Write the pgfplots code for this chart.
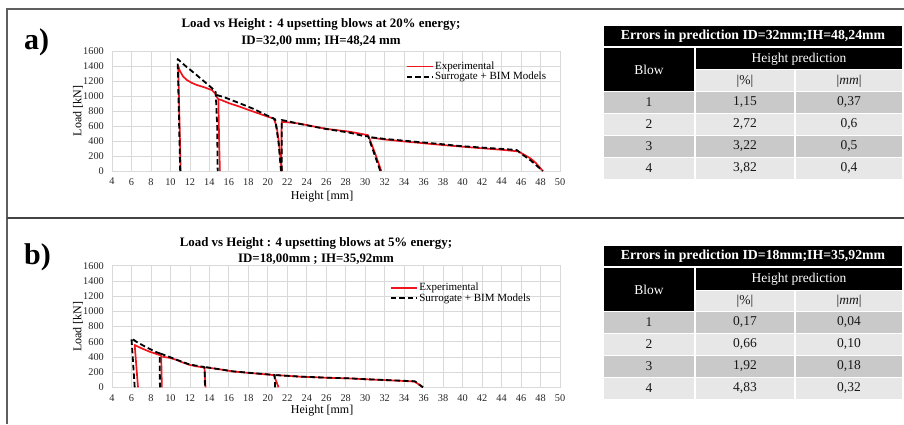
\documentclass[border=0pt]{standalone}
\usepackage{fontspec}
\setmainfont{Liberation Serif}
\usepackage{pgfplots}
\pgfplotsset{compat=1.18}

\definecolor{expred}{RGB}{240,20,28}
\definecolor{gridc}{RGB}{217,217,217}
\definecolor{darkrow}{RGB}{201,201,201}
\definecolor{lightrow}{RGB}{231,231,231}
\definecolor{framec}{RGB}{95,95,95}

\tikzset{
  expline/.style={expred, line width=1.7pt, line join=round},
  simline/.style={black, line width=1.8pt, dash pattern=on 5.5pt off 3pt, line join=round},
}

\pgfplotsset{
  chartstyle/.style={
    scale only axis, width=448pt,
    xmin=4, xmax=50, ymin=0, ymax=1600,
    xtick={4,6,...,50}, ytick={0,200,...,1600},
    grid=major, major grid style={gridc, line width=0.8pt},
    axis line style={gridc, line width=0.8pt},
    major tick length=0pt,
    /pgf/number format/assume math mode=true,
    /pgf/number format/1000 sep={},
    ticklabel style={font=\fontsize{10.3}{12}\selectfont, text=black!85},
    yticklabel style={anchor=east, inner sep=0pt, xshift=-8pt},
    xticklabel style={anchor=north, inner sep=0pt, yshift=-7pt},
    legend image code/.code={\draw[##1] (0pt,0pt) -- (26pt,0pt);},
    legend style={draw=none, fill=none, font=\fontsize{11}{13}\selectfont,
      inner sep=0pt, row sep=0pt, column sep=1pt, nodes={inner sep=0.6pt}},
    legend cell align=left,
    xlabel style={font=\fontsize{12}{14}\selectfont, anchor=center},
    ylabel style={font=\fontsize{12}{14}\selectfont, anchor=center, rotate=0},
  }
}

\newcommand\errtable[9]{%
  \fill[black] (604,26) rectangle (902,46);
  \node[text=white, font=\bfseries\fontsize{13.8}{16}\selectfont] at (753,36) {#1};
  \fill[black] (604,48) rectangle (694,91);
  \fill[black] (696,48) rectangle (902,69.5);
  \fill[lightrow] (696,70.5) rectangle (794,91);
  \fill[lightrow] (796,70.5) rectangle (902,91);
  \node[text=white, font=\fontsize{13.5}{16}\selectfont] at (649,70) {Blow};
  \node[text=white, font=\fontsize{13.5}{16}\selectfont] at (799,59) {Height prediction};
  \node[text=black!90, font=\fontsize{13.5}{16}\selectfont] at (745,81) {|\%|};
  \node[text=black!90, font=\fontsize{13.5}{16}\selectfont] at (849,81) {|\textit{mm}|};
  \foreach \r/\c in {0/darkrow,1/lightrow,2/darkrow,3/lightrow}{
    \fill[\c] (604,{92+22*\r}) rectangle (694,{113+22*\r});
    \fill[\c] (696,{92+22*\r}) rectangle (794,{113+22*\r});
    \fill[\c] (796,{92+22*\r}) rectangle (902,{113+22*\r});
  }
  \begin{scope}[every node/.style={text=black!90, font=\fontsize{13.5}{16}\selectfont}]
  \node at (649,102.5) {1}; \node at (745,102.5) {#2}; \node at (849,102.5) {#3};
  \node at (649,124.5) {2}; \node at (745,124.5) {#4}; \node at (849,124.5) {#5};
  \node at (649,146.5) {3}; \node at (745,146.5) {#6}; \node at (849,146.5) {#7};
  \node at (649,168.5) {4}; \node at (745,168.5) {#8}; \node at (849,168.5) {#9};
  \end{scope}
}

\begin{document}
\begin{tikzpicture}
\useasboundingbox (0pt,0pt) rectangle (904pt,424pt);

% ---------------- chart a ----------------
\begin{axis}[chartstyle, height=120pt, at={(112pt,253pt)}, anchor=south west,
  xlabel={Height [mm]}, ylabel={Load [kN]},
  xlabel style={at={(axis description cs:0.469,-0.217)}},
  ylabel style={at={(axis description cs:-0.076,0.5)}},
  legend style={at={(0.655,0.915)}, anchor=north west}]
\addplot[expline] coordinates {(30.6,445) (32,420) (34,394) (36,370) (38,346) (40,324) (42,303) (44,283) (45.7,262) (46.4,212) (47.0,165) (47.5,110) (47.9,50) (48.24,0)};
\addlegendentry{Experimental}
\addplot[expline, forget plot] coordinates {(21.38,0) (21.42,655) (22,650) (23.3,632) (24,612) (26,562) (28.4,524) (29.8,490) (30.3,478) (31.0,240) (31.65,0)};
\addplot[expline, forget plot] coordinates {(14.92,956) (15.2,948) (16,905) (17.1,858) (18,815) (19,770) (20,724) (20.6,700) (20.9,600) (21.1,420) (21.3,180) (21.45,0)};
\addplot[expline, forget plot] coordinates {(11.05,0) (10.8,1400) (10.95,1340) (11.3,1260) (11.7,1212) (12.2,1175) (12.7,1147) (13.5,1115) (14.24,1080) (14.58,1036) (14.75,990) (14.92,956) (15.0,400) (15.08,0)};
\addplot[simline] coordinates {(30.66,449) (32,428) (34,404) (36,380) (38,356) (39.73,333) (42,312) (44,295) (45.55,280) (46.3,205) (47.0,140) (47.7,60) (48.24,0)};
\addlegendentry{Surrogate + BIM Models}
\addplot[simline, forget plot] coordinates {(21.42,0) (21.42,680) (22,665) (23.3,627) (26,560) (28.4,511) (29.8,467) (30.3,462) (30.9,240) (31.55,0)};
\addplot[simline, forget plot] coordinates {(14.75,1013) (15.5,985) (17.14,902) (18.5,830) (20.05,733) (20.75,690) (21.1,380) (21.35,0)};
\addplot[simline, forget plot] coordinates {(11.0,0) (10.74,1493) (11.5,1405) (12.5,1300) (13.5,1190) (14.4,1090) (14.65,1050) (14.8,600) (14.85,0)};
\end{axis}

% ---------------- chart b ----------------
\begin{axis}[chartstyle, height=121.6pt, at={(112pt,36.7pt)}, anchor=south west,
  xlabel={Height [mm]}, ylabel={Load [kN]},
  xlabel style={at={(axis description cs:0.469,-0.195)}},
  ylabel style={at={(axis description cs:-0.076,0.5)}},
  legend style={at={(0.62,0.862)}, anchor=north west}]
\addplot[expline] coordinates {(20.87,162) (21.5,155) (23.3,140) (26,126) (28.4,117) (30,106) (32,95) (34,83) (35.08,76) (35.93,0)};
\addlegendentry{Experimental}
\addplot[expline, forget plot] coordinates {(13.7,262) (14,256) (15,238) (16.43,208) (18,190) (20,168) (20.6,160) (20.8,100) (21.1,0)};
\addplot[expline, forget plot] coordinates {(9.17,403) (10,385) (10.6,362) (11.2,330) (11.97,295) (12.7,275) (13.35,263) (13.5,255) (13.6,0)};
\addplot[expline, forget plot] coordinates {(6.67,0) (6.33,557) (7.0,515) (7.87,468) (8.9,425) (9.05,415) (9.12,0)};
\addplot[simline] coordinates {(20.8,160) (21.5,155) (23.3,141) (26,127) (28.4,118) (30,107) (32,96) (34,85) (35.08,80) (35.93,0)};
\addlegendentry{Surrogate + BIM Models}
\addplot[simline, forget plot] coordinates {(13.62,265) (14,258) (16.43,210) (18,192) (20,170) (20.7,162) (20.75,0)};
\addplot[simline, forget plot] coordinates {(8.95,445) (10,395) (10.6,364) (11.97,300) (13.35,270) (13.5,264) (13.55,0)};
\addplot[simline, forget plot] coordinates {(6.33,0) (6.0,645) (6.5,600) (7.53,526) (8.5,465) (8.9,447) (8.92,0)};
\end{axis}

% ---------------- texts, frame, tables (pixel coords, y down) ----------------
\begin{scope}[x=1pt, y=-1pt, shift={(0pt,424pt)}]
  \draw[framec, line width=1.6pt] (904,9) -- (7,9) -- (7,424);
  \draw[framec!70!black, line width=1.3pt] (7,218) -- (904,218);

  \node[anchor=west, font=\bfseries\fontsize{30}{32}\selectfont, inner sep=0pt] at (24,42) {a)};
  \node[anchor=west, font=\bfseries\fontsize{30}{32}\selectfont, inner sep=0pt] at (24,257) {b)};

  \node[font=\bfseries\fontsize{12.9}{15}\selectfont, inner sep=0pt] at (321,24) {Load vs Height : 4 upsetting blows at 20\% energy;};
  \node[font=\bfseries\fontsize{12.9}{15}\selectfont, inner sep=0pt] at (321,41) {ID=32,00 mm; IH=48,24 mm};
  \node[font=\bfseries\fontsize{12.9}{15}\selectfont, inner sep=0pt] at (316,243) {Load vs Height : 4 upsetting blows at 5\% energy;};
  \node[font=\bfseries\fontsize{12.9}{15}\selectfont, inner sep=0pt] at (316,259) {ID=18,00mm ; IH=35,92mm};

  \errtable{Errors in prediction ID=32mm;IH=48,24mm}{1,15}{0,37}{2,72}{0,6}{3,22}{0,5}{3,82}{0,4}
  \begin{scope}[yshift=-220pt]
  \errtable{Errors in prediction ID=18mm;IH=35,92mm}{0,17}{0,04}{0,66}{0,10}{1,92}{0,18}{4,83}{0,32}
  \end{scope}
\end{scope}
\end{tikzpicture}
\end{document}
